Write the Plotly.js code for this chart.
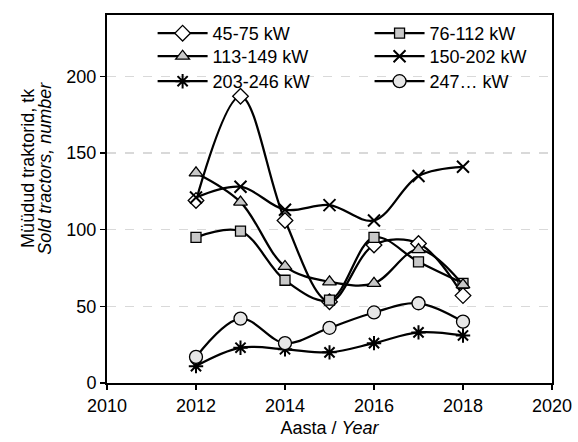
<!DOCTYPE html>
<html><head><meta charset="utf-8">
<script src="https://cdn.plot.ly/plotly-3.0.1.min.js"></script>
<style>html,body{margin:0;padding:0;background:#fff}#chart{width:578px;height:442px}</style>
</head><body><div id="chart"></div>
<script>
const years = [2012, 2013, 2014, 2015, 2016, 2017, 2018];
const seriesNames = ["45-75 kW", "76-112 kW", "113-149 kW", "150-202 kW", "203-246 kW", "247… kW"];
const s45_75   = [119, 187, 106, 53, 90, 91, 57];
const s76_112  = [95, 99, 67, 54, 95, 79, 65];
const s113_149 = [137, 118, 76, 66, 65, 87, 64];
const s150_202 = [121, 128, 113, 116, 106, 135, 141];
const s203_246 = [11, 23, 22, 20, 26, 33, 31];
const s247     = [17, 42, 26, 36, 46, 52, 40];
const xTicks = [2010, 2012, 2014, 2016, 2018, 2020];
const yTicks = [0, 50, 100, 150, 200];
const yTitle1 = "Müüdud traktorid, tk";
const yTitle2 = "<i>Sold tractors, number</i>";
const xTitle = "Aasta / <i>Year</i>";

const values = [s45_75, s76_112, s113_149, s150_202, s203_246, s247];
const symbols = ["diamond", "square", "triangle-up", "x-thin", "asterisk", "circle"];
const fills = ["#ffffff", "#c8c8c8", "#c8c8c8", "#000000", "#000000", "#e6e6e6"];
const sizes = [12, 10, 12, 12, 12, 13];
const legendIds = ["legend", "legend2", "legend3", "legend4", "legend5", "legend6"];
const colX = [0.1025, 0.590];
const rowY = [1.0, 0.9375, 0.8696];

const traces = values.map((v, i) => ({
  x: years, y: v, name: seriesNames[i], type: "scatter", mode: "lines+markers",
  legend: legendIds[i],
  line: {color: "#000", width: 2.25, shape: "spline", smoothing: 1},
  marker: {symbol: symbols[i], size: sizes[i], color: fills[i],
           line: {color: "#000", width: (symbols[i] === "x-thin" || symbols[i] === "asterisk") ? 2 : 1.3}}
}));

const layout = {
  width: 578, height: 442,
  margin: {l: 107, r: 26, t: 15, b: 59},
  paper_bgcolor: "#fff", plot_bgcolor: "#fff",
  font: {family: "'Liberation Sans', Arial, sans-serif", size: 18, color: "#000"},
  showlegend: true,
  xaxis: {range: [2010, 2020], tickvals: xTicks, ticktext: xTicks.map(String),
          showgrid: false, zeroline: false, showline: true, linecolor: "#000", linewidth: 2,
          mirror: true, ticks: "outside", ticklen: 5, tickcolor: "#000", tickwidth: 1.5,
          title: {text: xTitle, font: {size: 18}, standoff: 7}},
  yaxis: {range: [0, 240], tickvals: yTicks, ticktext: yTicks.map(String),
          showgrid: true, gridcolor: "#d9d9d9", griddash: "dash", gridwidth: 1.5,
          zeroline: false, showline: true, linecolor: "#000", linewidth: 2,
          mirror: true, ticks: "outside", ticklen: 5, tickcolor: "#000", tickwidth: 1.5},
  annotations: [
    {text: yTitle1, xref: "paper", yref: "paper", x: -0.178, y: 0.584, textangle: -90,
     showarrow: false, xanchor: "center", yanchor: "middle", font: {size: 18}},
    {text: yTitle2, xref: "paper", yref: "paper", x: -0.14, y: 0.584, textangle: -90,
     showarrow: false, xanchor: "center", yanchor: "middle", font: {size: 18}}
  ]
};
legendIds.forEach((id, i) => {
  layout[id] = {orientation: "v", x: colX[i % 2], y: rowY[Math.floor(i / 2)],
    xanchor: "left", yanchor: "top", bgcolor: "rgba(0,0,0,0)", font: {size: 18},
    tracegroupgap: 0, itemwidth: 50};
});
Plotly.newPlot("chart", traces, layout, {displayModeBar: false, staticPlot: true});
</script></body></html>
